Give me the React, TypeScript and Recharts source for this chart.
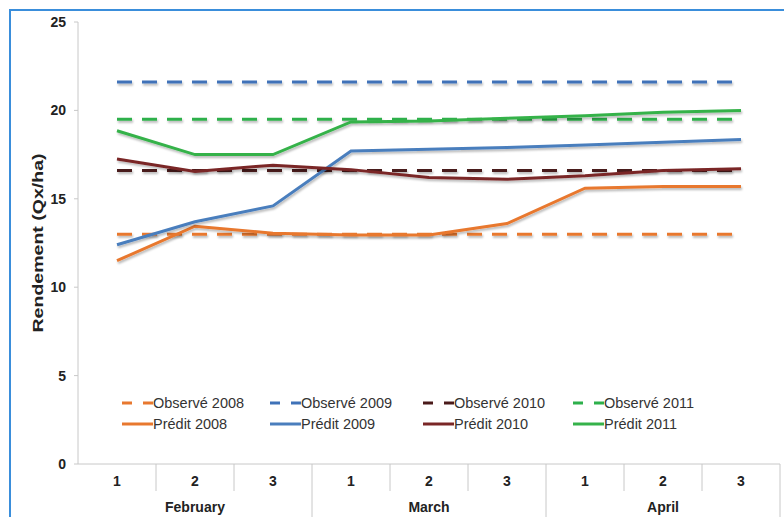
import React from 'react';
import { LineChart, Line, XAxis, YAxis } from 'recharts';

const subPeriods = ['1', '2', '3', '1', '2', '3', '1', '2', '3'];
const months = ['February', 'February', 'February', 'March', 'March', 'March', 'April', 'April', 'April'];

const observe2008 = [13.0, 13.0, 13.0, 13.0, 13.0, 13.0, 13.0, 13.0, 13.0];
const observe2009 = [21.6, 21.6, 21.6, 21.6, 21.6, 21.6, 21.6, 21.6, 21.6];
const observe2010 = [16.6, 16.6, 16.6, 16.6, 16.6, 16.6, 16.6, 16.6, 16.6];
const observe2011 = [19.5, 19.5, 19.5, 19.5, 19.5, 19.5, 19.5, 19.5, 19.5];

const predit2008 = [11.5, 13.45, 13.05, 12.95, 12.95, 13.6, 15.6, 15.7, 15.7];
const predit2009 = [12.4, 13.7, 14.6, 17.7, 17.8, 17.9, 18.05, 18.2, 18.35];
const predit2010 = [17.25, 16.55, 16.9, 16.65, 16.2, 16.1, 16.3, 16.6, 16.7];
const predit2011 = [18.85, 17.5, 17.5, 19.35, 19.4, 19.55, 19.7, 19.9, 20.0];

const yTicks = [0, 5, 10, 15, 20, 25];

const seriesDefs = [
  { key: 'obs2008', name: 'Observé 2008', values: observe2008, color: '#E8782F', dashed: true },
  { key: 'obs2009', name: 'Observé 2009', values: observe2009, color: '#3F72B8', dashed: true },
  { key: 'obs2010', name: 'Observé 2010', values: observe2010, color: '#4A1A1A', dashed: true },
  { key: 'obs2011', name: 'Observé 2011', values: observe2011, color: '#2DB04B', dashed: true },
  { key: 'pre2008', name: 'Prédit 2008', values: predit2008, color: '#E8782F', dashed: false },
  { key: 'pre2009', name: 'Prédit 2009', values: predit2009, color: '#4A7EBD', dashed: false },
  { key: 'pre2010', name: 'Prédit 2010', values: predit2010, color: '#7A2626', dashed: false },
  { key: 'pre2011', name: 'Prédit 2011', values: predit2011, color: '#35B24A', dashed: false },
];

const data = subPeriods.map((s, i) => {
  const row: any = { sub: s, month: months[i], idx: i };
  seriesDefs.forEach((d) => {
    row[d.key] = d.values[i];
  });
  return row;
});

const W = 784;
const H = 517;
const M = { top: 22, right: 4, bottom: 0, left: 0 };
const Y_AXIS_W = 78;
const X_AXIS_H = 53;
const PLOT_LEFT = M.left + Y_AXIS_W;
const PLOT_RIGHT = W - M.right;
const PLOT_BOTTOM = H - M.bottom - X_AXIS_H;
const BAND = (PLOT_RIGHT - PLOT_LEFT) / subPeriods.length;

const FONT = 'Arial, "Liberation Sans", sans-serif';

const XTick = (props: any) => {
  const { x, payload } = props;
  const i = payload && payload.index != null ? payload.index : props.index;
  const right = x + BAND / 2;
  const full = i % 3 === 2;
  return (
    <g>
      <text
        x={x}
        y={PLOT_BOTTOM + 22}
        textAnchor="middle"
        fill="#222"
        fontSize={14}
        fontWeight="bold"
        fontFamily={FONT}
      >
        {payload.value}
      </text>
      {i % 3 === 1 ? (
        <text
          x={x}
          y={PLOT_BOTTOM + 48}
          textAnchor="middle"
          fill="#222"
          fontSize={14}
          fontWeight="bold"
          fontFamily={FONT}
        >
          {months[i]}
        </text>
      ) : null}
      <line
        x1={right}
        x2={right}
        y1={PLOT_BOTTOM}
        y2={full ? H : PLOT_BOTTOM + 27}
        stroke="#c8c8c8"
        strokeWidth={1}
      />
    </g>
  );
};

const YLabel = () => (
  <text
    x={37}
    y={243}
    transform="rotate(-90 37 243)"
    textAnchor="middle"
    dominantBaseline="central"
    fill="#222"
    fontSize={15}
    fontWeight="bold"
    fontFamily={FONT}
    textLength={179}
    lengthAdjust="spacingAndGlyphs"
  >
    Rendement (Qx/ha)
  </text>
);

const legendCols = [122, 270, 423, 573];
const legendRows = [403, 424];

const LegendMarker = ({ color, dashed }: { color: string; dashed: boolean }) => (
  <svg width={31} height={6} style={{ display: 'block' }}>
    <line
      x1={0}
      x2={31}
      y1={3}
      y2={3}
      stroke={color}
      strokeWidth={3}
      strokeDasharray={dashed ? '10 11' : undefined}
    />
  </svg>
);

export default function App() {
  return (
    <div style={{ position: 'absolute', left: 0, top: 0, width: W, height: H, background: '#fff', overflow: 'hidden' }}>
      <div
        style={{
          position: 'absolute',
          left: 9,
          top: 9,
          width: W - 9,
          height: H - 9,
          borderTop: '2px solid #3A8EDB',
          borderLeft: '2px solid #3A8EDB',
          boxSizing: 'border-box',
        }}
      />
      <div style={{ position: 'absolute', left: 0, top: 0 }}>
        <LineChart width={W} height={H} data={data} margin={M}>
          <defs>
            <filter id="lineShadow" filterUnits="userSpaceOnUse" x="0" y="0" width={W} height={H}>
              <feDropShadow dx="1" dy="2" stdDeviation="1" floodColor="#000" floodOpacity="0.28" />
            </filter>
          </defs>
          <XAxis
            dataKey="sub"
            interval={0}
            padding={{ left: BAND / 2, right: BAND / 2 }}
            height={X_AXIS_H}
            axisLine={{ stroke: '#c8c8c8' }}
            tickLine={false}
            tick={<XTick />}
          />
          <YAxis
            domain={[0, 25]}
            ticks={yTicks}
            width={Y_AXIS_W}
            axisLine={{ stroke: '#c8c8c8' }}
            tickLine={{ stroke: '#c8c8c8' }}
            tickSize={4}
            tickMargin={8}
            tick={{ fill: '#222', fontSize: 14, fontWeight: 'bold', fontFamily: FONT }}
            label={<YLabel />}
          />
          {seriesDefs.map((s) => (
            <Line
              key={s.key}
              type="linear"
              dataKey={s.key}
              name={s.name}
              stroke={s.color}
              strokeWidth={3}
              strokeDasharray={s.dashed ? '15 10' : undefined}
              dot={false}
              activeDot={false}
              isAnimationActive={false}
              filter="url(#lineShadow)"
            />
          ))}
        </LineChart>
      </div>
      {seriesDefs.map((s, i) => {
        const col = i % 4;
        const row = Math.floor(i / 4);
        return (
          <div
            key={s.key}
            style={{
              position: 'absolute',
              left: legendCols[col],
              top: legendRows[row] - 9,
              height: 18,
              display: 'flex',
              alignItems: 'center',
              fontFamily: FONT,
              fontSize: 14.5,
              color: '#333',
              whiteSpace: 'nowrap',
            }}
          >
            <LegendMarker color={s.color} dashed={s.dashed} />
            <span>{s.name}</span>
          </div>
        );
      })}
    </div>
  );
}
